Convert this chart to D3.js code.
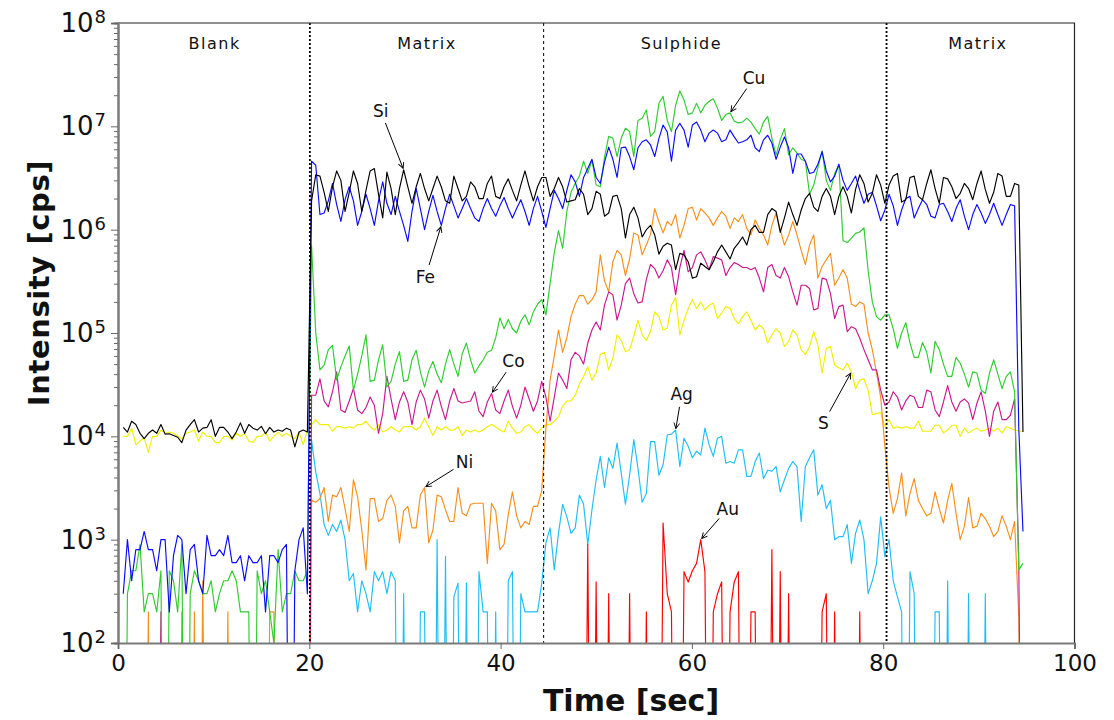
<!DOCTYPE html>
<html>
<head>
<meta charset="utf-8">
<script src="https://cdn.jsdelivr.net/npm/d3@7"></script>
<style>
  body { margin: 0; background: #fff; }
  svg text { font-family: "DejaVu Sans", "Liberation Sans", sans-serif; }
</style>
</head>
<body>
<svg id="chart" width="1114" height="720"></svg>
<script>
// Laser ablation ICP-MS time-resolved signal; one reading per sweep.
const sweepStart = 0.55;   // s, first sweep
const sweepStep = 0.4375;  // s between sweeps

// Intensities in counts per second (0 = nothing counted)
const si = [
  1.22e4,1.1e4,1.4e4,1.3e4,1.07e4,9.5e3,1.07e4,1.15e4,1.07e4,1.3e4,
  1.05e4,1.06e4,1.02e4,9.8e3,8.7e3,1.15e4,1.3e4,1.45e4,1.1e4,1.2e4,
  1.22e4,1.45e4,1.0e4,1.22e4,1.22e4,1.1e4,9.5e3,1.1e4,1.35e4,1.07e4,
  1.3e4,1.2e4,1.15e4,1.25e4,1.06e4,1.22e4,1.1e4,1.15e4,1.12e4,1.2e4,
  1.15e4,7.9e3,1.1e4,1.15e4,1.1e4,
  1.9e6,3.4e6,3.3e6,2.3e6,1.5e6,2.6e6,3.7e6,3.0e6,1.5e6,2.3e6,
  3.7e6,2.8e6,1.5e6,2.4e6,3.7e6,3.9e6,2.2e6,1.3e6,3.6e6,2.5e6,
  1.4e6,2.5e6,3.8e6,2.6e6,1.8e6,2.6e6,3.5e6,2.5e6,1.9e6,2.5e6,
  3.3e6,2.6e6,1.9e6,1.8e6,3.3e6,2.5e6,1.9e6,2.1e6,2.9e6,2.6e6,
  2.0e6,2.0e6,2.8e6,3.3e6,2.1e6,2.0e6,2.6e6,3.1e6,2.4e6,1.9e6,
  2.7e6,3.7e6,2.6e6,1.9e6,2.6e6,3.2e6,3.2e6,
  2.1e6,2.5e6,3.2e6,2.6e6,1.85e6,1.9e6,1.95e6,2.5e6,2.2e6,1.4e6,1.6e6,
  2.35e6,2.2e6,1.35e6,1.45e6,2.1e6,2.15e6,1.6e6,8.3e5,1.4e6,1.65e6,
  1.3e6,8.5e5,1.0e6,1.1e6,8.9e5,5.8e5,6.9e5,7.4e5,7.1e5,4.1e5,
  5.9e5,5.7e5,4.9e5,3.4e5,3.5e5,4.75e5,4.4e5,4.1e5,4.9e5,6.1e5,
  7.1e5,6.1e5,5.2e5,6.6e5,7.4e5,8.5e5,7.1e5,1.0e6,1.1e6,9.4e5,
  9.4e5,1.4e6,1.6e6,1.5e6,9.4e5,1.3e6,1.85e6,1.4e6,1.1e6,1.55e6,
  2.0e6,2.25e6,1.65e6,1.5e6,2.1e6,2.5e6,2.1e6,1.4e6,
  2.1e6,2.6e6,2.1e6,1.45e6,2.45e6,3.4e6,2.8e6,1.85e6,2.25e6,3.4e6,
  2.7e6,1.8e6,2.7e6,3.3e6,3.5e6,1.85e6,1.95e6,3.2e6,3.3e6,2.1e6,
  1.95e6,2.8e6,3.8e6,2.5e6,1.8e6,3.2e6,3.1e6,2.6e6,2.0e6,2.25e6,
  2.8e6,2.5e6,1.95e6,2.8e6,3.7e6,2.45e6,1.8e6,2.3e6,3.5e6,3.3e6,
  2.1e6,2.1e6,2.8e6,2.7e6,1.1e4
];

const fe = [
  300,1000,400,800,800,1200,800,800,500,1000,
  1000,200,700,1100,1000,300,800,900,400,300,
  1100,700,700,800,700,1100,600,600,700,400,
  700,600,600,700,200,700,700,600,800,900,
  0,500,1000,1300,300,
  4.6e6,4.2e6,1.4e6,1.45e6,1.9e6,2.8e6,1.75e6,1.2e6,1.95e6,2.6e6,
  1.9e6,1.1e6,1.5e6,
  2.2e6,1.6e6,1.1e6,1.9e6,2.9e6,1.8e6,1.4e6,2.1e6,1.5e6,1.1e6,
  7.7e5,1.5e6,2.5e6,1.6e6,1.0e6,1.5e6,2.15e6,1.5e6,1.1e6,1.6e6,
  2.2e6,1.7e6,1.3e6,1.6e6,2.0e6,1.6e6,1.3e6,1.2e6,1.6e6,2.0e6,
  1.6e6,1.35e6,1.7e6,2.05e6,1.6e6,1.3e6,1.6e6,1.95e6,1.5e6,1.1e6,
  1.6e6,2.1e6,1.5e6,1.05e6,
  1.6e6,2.4e6,2.0e6,1.6e6,2.4e6,3.4e6,2.9e6,2.1e6,3.2e6,3.9e6,4.8e6,
  3.2e6,2.8e6,4.5e6,6.3e6,4.8e6,3.2e6,6.2e6,6.3e6,5.1e6,3.8e6,
  6.2e6,7.1e6,7.4e6,6.6e6,5.1e6,7.6e6,1.03e7,8.8e6,4.6e6,9.2e6,
  1.07e7,9.2e6,6.3e6,1.03e7,1.1e7,9.2e6,7.1e6,8.6e6,9.2e6,8.6e6,
  7.1e6,7.4e6,9.2e6,7.9e6,6.9e6,7.1e6,7.4e6,8.2e6,6.2e6,5.7e6,
  7.4e6,8.2e6,6.9e6,4.8e6,6.3e6,7.9e6,6.2e6,3.5e6,5.4e6,5.4e6,
  4.6e6,3.5e6,3.6e6,4.3e6,5.7e6,3.7e6,2.9e6,3.3e6,
  4.3e6,3.0e6,2.4e6,2.8e6,3.3e6,2.4e6,1.8e6,2.2e6,2.3e6,1.7e6,
  1.22e6,1.55e6,2.2e6,1.7e6,1.1e6,1.55e6,2.0e6,2.1e6,1.3e6,1.6e6,
  1.95e6,1.75e6,1.35e6,1.3e6,1.75e6,1.8e6,1.5e6,1.2e6,1.6e6,1.95e6,
  1.35e6,1.0e6,1.4e6,1.75e6,1.45e6,1.15e6,1.4e6,1.8e6,1.4e6,1.1e6,
  1.4e6,1.75e6,1.7e6,1.2e4,1.2e3
];

const cu = [
  0,300,500,500,900,200,300,300,200,500,
  0,500,400,200,900,0,300,500,400,300,
  300,400,200,300,400,400,500,400,200,200,
  200,0,500,300,400,200,100,800,200,300,
  300,500,400,400,500,
  7.0e5,1.0e5,4.4e4,4.9e4,6.9e4,7.6e4,3.5e4,4.7e4,6.0e4,7.5e4,
  2.8e4,4.0e4,6.0e4,9.6e4,3.4e4,3.5e4,5.5e4,7.7e4,3.0e4,3.4e4,
  5.0e4,6.6e4,3.4e4,3.5e4,5.5e4,6.8e4,4.2e4,3.0e4,4.3e4,5.3e4,
  4.0e4,3.3e4,5.0e4,6.9e4,5.0e4,3.8e4,6.3e4,8.0e4,5.5e4,4.1e4,
  4.8e4,5.5e4,6.5e4,6.8e4,9.0e4,1.4e5,1.1e5,1.35e5,1.1e5,1.0e5,
  1.3e5,1.5e5,1.2e5,1.6e5,1.9e5,2.1e5,1.5e5,
  3.0e5,6.0e5,9.8e5,6.6e5,1.5e6,2.3e6,2.8e6,3.3e6,4.6e6,3.5e6,4.7e6,
  2.7e6,2.6e6,5.0e6,8.0e6,7.7e6,5.1e6,7.7e6,9.6e6,8.9e6,5.1e6,
  1.14e7,1.2e7,1.44e7,8.0e6,8.9e6,1.67e7,1.95e7,1.14e7,8.9e6,1.6e7,
  2.2e7,1.8e7,1.3e7,1.35e7,1.67e7,1.35e7,1.6e7,1.75e7,1.85e7,1.5e7,
  1.14e7,1.3e7,1.35e7,1.12e7,1.08e7,1.1e7,1.2e7,1.1e7,9.5e6,8.4e6,
  1.1e7,1.25e7,7.7e6,5.3e6,7.4e6,9.5e6,5.3e6,6.2e6,5.5e6,4.8e6,
  4.6e6,2.2e6,2.7e6,4.0e6,5.8e6,3.0e6,2.4e6,3.5e6,
  4.2e6,7.8e5,7.5e5,8.3e5,9.2e5,9.5e5,1.04e6,4.0e5,2.0e5,1.44e5,
  1.33e5,1.5e5,1.5e5,1.1e5,7.1e4,1.0e5,1.26e5,8.0e4,5.8e4,5.8e4,
  8.1e4,6.5e4,4.1e4,8.3e4,6.9e4,5.0e4,3.8e4,3.8e4,5.8e4,5.1e4,
  4.0e4,3.0e4,4.2e4,4.1e4,2.8e4,2.6e4,4.1e4,5.5e4,4.0e4,2.9e4,
  3.8e4,4.2e4,2.7e4,510,590
];

const ni = [
  0,0,0,0,0,0,200,0,0,0,
  0,0,0,0,200,0,0,200,0,400,
  0,0,0,0,0,200,0,0,0,0,
  0,0,0,0,0,200,200,0,0,0,
  0,0,0,0,0,
  2.4e3,2.3e3,2.5e3,3.2e3,1.5e3,2.7e3,2.6e3,3.2e3,2.0e3,1.2e3,
  3.8e3,2.6e3,1.24e3,510,2.5e3,2.5e3,1.5e3,1.6e3,2.4e3,2.7e3,
  2.1e3,930,1.9e3,2.1e3,1.3e3,1.3e3,2.7e3,3.2e3,930,1.24e3,
  2.7e3,2.6e3,1.95e3,1.5e3,1.5e3,3.2e3,1.8e3,1.7e3,2.2e3,2.25e3,
  2.25e3,2.25e3,590,2.25e3,1.9e3,800,900,1.75e3,2.9e3,1.7e3,
  1.3e3,1.5e3,1.4e3,2.1e3,2.1e3,3.0e3,
  1.2e4,3.5e4,6.0e4,1.07e5,6.5e4,9.0e4,1.44e5,1.9e5,2.3e5,2.3e5,1.9e5,2.1e5,
  2.5e5,5.7e5,3.2e5,2.5e5,4.9e5,6.3e5,5.7e5,3.6e5,5.2e5,9.3e5,
  8.9e5,5.7e5,7.1e5,9.0e5,1.6e6,1.2e6,9.3e5,1.2e6,1.1e6,1.4e6,
  8.3e5,1.1e6,1.6e6,1.65e6,1.24e6,1.6e6,1.45e6,1.3e6,1.1e6,1.3e6,
  1.5e6,1.35e6,1.03e6,1.3e6,1.2e6,1.4e6,1.03e6,8.9e5,1.24e6,1.03e6,
  8.9e5,7.1e5,1.1e6,1.45e6,1.0e6,7.1e5,8.9e5,1.2e6,8.9e5,6.3e5,
  4.6e5,7.1e5,8.9e5,3.4e5,4.4e5,5.1e5,5.9e5,2.9e5,
  3.4e5,4.1e5,3.4e5,1.9e5,1.8e5,2.0e5,1.9e5,1.0e5,6.9e4,4.1e4,
  2.4e4,8.0e3,3.2e3,1.8e3,2.5e3,4.4e3,1.7e3,2.8e3,3.9e3,2.4e3,
  2.0e3,1.7e3,1.8e3,2.9e3,2.0e3,1.45e3,2.4e3,3.5e3,1.8e3,1.0e3,
  1.35e3,2.55e3,1.3e3,1.35e3,1.8e3,1.6e3,1.35e3,1.07e3,1.2e3,1.7e3,
  1.35e3,1.0e3,1.5e3,180,0
];

const co = [
  0,0,0,0,0,0,0,0,0,200,
  0,0,0,0,0,0,0,0,0,0,
  0,0,0,0,0,0,0,0,0,0,
  0,0,0,0,0,0,0,0,0,0,
  0,0,0,0,0,
  2.5e4,2.5e4,3.6e4,2.2e4,1.93e4,2.7e4,4.2e4,1.8e4,1.7e4,2.2e4,
  2.9e4,1.8e4,
  1.66e4,1.9e4,2.4e4,2.0e4,1.07e4,1.66e4,3.8e4,2.3e4,1.45e4,2.15e4,
  2.7e4,2.15e4,1.3e4,2.15e4,2.8e4,2.3e4,1.5e4,2.2e4,2.8e4,1.95e4,
  1.45e4,2.2e4,2.9e4,2.2e4,2.1e4,2.15e4,2.2e4,2.7e4,1.75e4,1.55e4,
  2.15e4,2.6e4,1.8e4,1.66e4,2.2e4,2.8e4,1.95e4,1.5e4,2.0e4,3.0e4,
  2.3e4,1.75e4,2.2e4,3.4e4,2.4e4,
  1.4e4,2.4e4,4.1e4,3.5e4,2.9e4,5.5e4,6.5e4,6.0e4,5.0e4,8.0e4,1.07e5,
  1.28e5,1.07e5,1.86e5,2.5e5,2.35e5,1.33e5,1.86e5,3.0e5,3.4e5,2.4e5,
  1.95e5,2.0e5,3.3e5,4.6e5,4.2e5,3.4e5,4.0e5,5.1e5,4.3e5,2.35e5,
  4.3e5,6.3e5,3.9e5,4.3e5,5.7e5,6.1e5,5.1e5,4.1e5,5.5e5,5.3e5,
  5.1e5,3.6e5,4.3e5,4.8e5,4.6e5,4.3e5,4.3e5,4.1e5,4.3e5,3.4e5,
  2.5e5,4.3e5,4.6e5,3.6e5,3.4e5,4.3e5,3.5e5,2.5e5,1.86e5,2.9e5,
  2.9e5,2.7e5,1.67e5,1.73e5,3.4e5,3.3e5,2.4e5,1.38e5,
  1.8e5,1.86e5,1.03e5,1.15e5,1.1e5,8.9e4,6.9e4,5.5e4,4.4e4,4.4e4,
  2.8e4,2.0e4,2.15e4,2.7e4,2.4e4,1.8e4,2.2e4,2.5e4,2.4e4,1.9e4,
  1.9e4,2.8e4,2.7e4,1.8e4,1.55e4,2.15e4,3.1e4,2.15e4,1.75e4,2.15e4,
  2.3e4,2.1e4,1.45e4,2.1e4,2.7e4,1.75e4,1.0e4,1.75e4,2.15e4,1.45e4,
  1.45e4,1.6e4,2.3e4,590,0
];

const s = [
  1.0e4,1.0e4,1.2e4,8.3e3,9.0e3,9.7e3,7.0e3,1.0e4,1.0e4,1.15e4,
  1.07e4,1.1e4,1.07e4,1.0e4,9.5e3,1.07e4,1.1e4,1.15e4,9.0e3,1.1e4,
  1.0e4,1.0e4,8.7e3,8.7e3,1.0e4,1.0e4,9.2e3,1.07e4,1.0e4,1.07e4,
  9.0e3,8.7e3,1.0e4,1.0e4,1.1e4,9.0e3,1.0e4,1.1e4,1.0e4,1.07e4,
  1.0e4,9.5e3,1.1e4,8.3e3,1.15e4,
  1.3e4,1.45e4,1.3e4,1.3e4,1.3e4,1.12e4,1.24e4,1.24e4,1.2e4,1.24e4,
  1.2e4,1.3e4,1.3e4,1.4e4,1.24e4,1.15e4,1.3e4,1.1e4,1.15e4,1.24e4,
  1.15e4,1.1e4,1.24e4,1.24e4,1.24e4,1.15e4,1.24e4,1.5e4,1.24e4,1.02e4,
  1.24e4,1.15e4,1.24e4,1.15e4,1.15e4,1.24e4,1.02e4,1.15e4,1.1e4,1.15e4,
  1.1e4,1.15e4,1.24e4,1.3e4,1.24e4,1.15e4,1.1e4,1.4e4,1.2e4,1.07e4,
  1.1e4,1.24e4,1.3e4,1.15e4,1.07e4,1.2e4,1.3e4,1.3e4,
  1.4e4,1.55e4,1.95e4,2.2e4,2.2e4,2.5e4,3.2e4,3.8e4,4.7e4,3.5e4,
  4.1e4,6.2e4,6.5e4,4.4e4,5.7e4,9.6e4,8.5e4,6.6e4,6.9e4,9.3e4,
  1.33e5,9.6e4,8.5e4,1.03e5,1.6e5,1.44e5,1.07e5,1.12e5,1.86e5,2.2e5,
  9.6e4,1.33e5,1.73e5,2.1e5,1.73e5,2.0e5,1.67e5,1.86e5,1.95e5,1.38e5,
  1.56e5,1.8e5,1.73e5,1.38e5,1.23e5,1.44e5,1.6e5,1.33e5,1.07e5,1.2e5,
  1.1e5,8.0e4,9.6e4,1.1e5,1.0e5,7.4e4,8.3e4,1.07e5,9.6e4,6.9e4,
  6.2e4,7.4e4,1.03e5,7.6e4,4.1e4,7.1e4,7.4e4,4.9e4,
  4.6e4,4.4e4,5.1e4,4.2e4,2.9e4,3.5e4,3.6e4,2.8e4,1.62e4,1.66e4,
  1.7e4,1.24e4,1.45e4,1.2e4,1.24e4,1.2e4,1.24e4,1.2e4,1.2e4,1.4e4,
  1.12e4,1.12e4,1.12e4,1.28e4,1.28e4,1.08e4,1.15e4,1.28e4,1.28e4,1.0e4,
  1.2e4,1.08e4,1.15e4,1.2e4,1.12e4,1.15e4,1.2e4,1.12e4,1.2e4,1.08e4,
  1.24e4,1.2e4,1.15e4,1.12e4,1.12e4
];

const ag = [
  0,0,0,0,0,0,0,0,0,0,
  0,0,0,0,0,0,0,0,0,0,
  0,0,0,0,0,0,0,0,0,0,
  0,0,0,0,0,0,0,0,0,0,
  0,0,0,0,0,
  9.2e3,4.5e3,2.8e3,1.4e3,1.1e3,1.4e3,1.2e3,1.55e3,1.0e3,400,
  470,200,400,300,200,490,400,490,300,490,
  400,0,300,0,0,0,200,200,0,0,
  1.0e3,0,690,0,280,380,0,380,0,0,
  490,200,200,0,200,0,0,400,490,0,
  300,200,200,200,200,380,930,1.3e3,510,1.15e3,
  2.2e3,1.66e3,1.15e3,1.3e3,2.7e3,2.2e3,900,1.95e3,3.8e3,
  6.4e3,3.2e3,6.2e3,4.9e3,8.6e3,4.4e3,2.2e3,4.2e3,9.3e3,4.9e3,
  2.3e3,2.8e3,8.9e3,8.9e3,4.2e3,5.3e3,1.03e4,1.05e4,1.15e4,5.1e3,
  9.6e3,8.0e3,6.2e3,7.2e3,6.6e3,1.2e4,8.3e3,6.4e3,9.6e3,1.0e4,
  5.5e3,5.7e3,5.5e3,7.4e3,7.4e3,4.1e3,4.1e3,5.7e3,6.9e3,3.9e3,
  4.7e3,4.6e3,5.1e3,2.9e3,3.8e3,4.9e3,5.7e3,5.1e3,1.5e3,5.1e3,
  6.2e3,7.4e3,2.7e3,3.4e3,2.0e3,2.4e3,1.0e3,
  1.07e3,1.07e3,1.4e3,590,1.15e3,1.55e3,1.0e3,300,400,590,
  1.66e3,690,1.0e3,400,280,200,0,490,300,0,
  0,0,0,200,200,0,400,0,0,0,
  0,300,0,0,0,300,0,0,0,0,
  0,0,0,0,0
];

const au = [
  0,0,0,0,0,0,0,0,0,0,
  0,0,0,0,0,0,0,0,0,0,
  0,0,0,0,0,0,0,0,0,0,
  0,0,0,0,0,0,0,0,0,0,
  0,0,0,0,0,0,0,0,0,0,
  0,0,0,0,0,0,0,0,0,0,
  0,0,0,0,0,0,0,0,0,0,
  0,0,0,0,0,0,0,0,0,0,
  0,0,0,0,0,0,0,0,0,0,
  0,0,0,0,0,0,0,0,0,0,
  0,0,0,0,0,0,0,0,0,0,
  0,900,0,390,0,0,300,0,0,0,
  0,300,0,0,0,200,0,0,0,1450,
  300,200,0,0,490,390,500,590,1000,490,
  0,200,300,390,0,200,390,490,0,0,
  200,200,0,0,0,800,0,490,0,300,
  0,0,0,0,0,0,0,200,300,0,
  200,0,0,0,0,0,200,0,0,0,
  0,0,0,0,0,0,0,0,0,0,
  0,0,0,0,0,0,0,0,0,0,
  0,0,0,0,0,0,0,0,0,0,
  0,0,0,0,0,0
];

// Sample phases along the ablation
const phaseBounds = [20.06, 44.5, 80.35];
const phaseNames = ["Blank", "Matrix", "Sulphide", "Matrix"];
const phaseLabelTimes = [10.1, 32.3, 58.9, 89.9];

const xTicks = [0, 20, 40, 60, 80, 100];
const yExponents = [2, 3, 4, 5, 6, 7, 8];

// ---------------------------------------------------------------------
const svg = d3.select("#chart");
const M = { left: 118, right: 1074.5, top: 23, bottom: 643 };

const x = d3.scaleLinear().domain([0, 100]).range([M.left, M.right]);
const y = d3.scaleLog().domain([1e2, 1e8]).range([M.bottom, M.top]);

// zero counts are sent far below the axis so the trace drops straight out
const ZERO_FLOOR = 1e-2;
const time = d3.range(si.length).map(i => sweepStart + i * sweepStep);

const series = [
  { name: "S",  values: s,  color: "#f2f000" },
  { name: "Ag", values: ag, color: "#1fbff5" },
  { name: "Au", values: au, color: "#ff0000" },
  { name: "Ni", values: ni, color: "#f5901c" },
  { name: "Co", values: co, color: "#c9198e" },
  { name: "Cu", values: cu, color: "#2fcc2f" },
  { name: "Fe", values: fe, color: "#0a0aff" },
  { name: "Si", values: si, color: "#000000" }
];
const byName = Object.fromEntries(series.map(d => [d.name, d]));

svg.append("defs").append("clipPath").attr("id", "plotClip")
  .append("rect")
  .attr("x", M.left).attr("y", M.top)
  .attr("width", M.right - M.left).attr("height", M.bottom - M.top);

svg.select("defs").append("marker")
  .attr("id", "arrowHead")
  .attr("viewBox", "0 0 10 10")
  .attr("refX", 9).attr("refY", 5)
  .attr("markerWidth", 7).attr("markerHeight", 7)
  .attr("markerUnits", "userSpaceOnUse")
  .attr("orient", "auto")
  .append("path")
  .attr("d", "M1,1 L9,5 L1,9")
  .attr("fill", "none").attr("stroke", "#000").attr("stroke-width", 1.3);

// traces
const line = d3.line()
  .x((d, i) => x(time[i]))
  .y(d => y(Math.max(d, ZERO_FLOOR)));

const traces = svg.append("g").attr("clip-path", "url(#plotClip)");
traces.selectAll("path.trace")
  .data(series)
  .join("path")
  .attr("class", "trace")
  .attr("d", d => line(d.values))
  .attr("fill", "none")
  .attr("stroke", d => d.color)
  .attr("stroke-width", 1.15)
  .attr("stroke-linejoin", "round");

// phase boundaries
svg.append("g").selectAll("line")
  .data(phaseBounds)
  .join("line")
  .attr("x1", d => x(d)).attr("x2", d => x(d))
  .attr("y1", M.top).attr("y2", M.bottom)
  .attr("stroke", "#000")
  .attr("stroke-width", (d, i) => i === 1 ? 1 : 1.8)
  .attr("stroke-dasharray", (d, i) => i === 1 ? "3,3" : "2,2");

// phase names
svg.append("g").selectAll("text")
  .data(phaseNames)
  .join("text")
  .attr("x", (d, i) => x(phaseLabelTimes[i]))
  .attr("y", 49)
  .attr("text-anchor", "middle")
  .attr("font-size", 16)
  .attr("letter-spacing", 1.5)
  .attr("fill", "#111")
  .text(d => d);

// frame (top and right)
svg.append("path")
  .attr("d", `M${M.left},${M.top}H${M.right}V${M.bottom}`)
  .attr("fill", "none").attr("stroke", "#222").attr("stroke-width", 1.2);

// y axis: decades with minor ticks
const minorTicks = [];
yExponents.slice(0, -1).forEach(e => {
  for (let k = 2; k <= 9; k++) minorTicks.push(k * Math.pow(10, e));
});
const majorTicks = yExponents.map(e => Math.pow(10, e));

const yAxisMinor = svg.append("g")
  .attr("transform", `translate(${M.left},0)`)
  .call(d3.axisLeft(y).tickValues(minorTicks).tickSize(4).tickFormat(""));
const yAxisMajor = svg.append("g")
  .attr("transform", `translate(${M.left},0)`)
  .call(d3.axisLeft(y).tickValues(majorTicks).tickSize(7).tickFormat(""));
[yAxisMinor, yAxisMajor].forEach(g => {
  g.select(".domain").attr("stroke", "#7a7a7a").attr("stroke-width", 2);
  g.selectAll(".tick line").attr("stroke", "#666").attr("stroke-width", 1);
});

const yLabels = svg.append("g").selectAll("text")
  .data(yExponents)
  .join("text")
  .attr("x", 106)
  .attr("y", e => y(Math.pow(10, e)) + 9)
  .attr("text-anchor", "end")
  .attr("font-size", 26)
  .attr("fill", "#111");
yLabels.append("tspan").text("10");
yLabels.append("tspan").attr("dy", -9).attr("dx", 1).attr("font-size", 18).text(e => e);

// x axis
const xAxis = svg.append("g")
  .attr("transform", `translate(0,${M.bottom})`)
  .call(d3.axisBottom(x).tickValues(xTicks).tickSize(6).tickPadding(6).tickFormat(d3.format("d")));
xAxis.select(".domain").attr("stroke", "#7a7a7a").attr("stroke-width", 2);
xAxis.selectAll(".tick line").attr("stroke", "#666");
xAxis.selectAll(".tick text")
  .attr("font-size", 23)
  .attr("font-family", "'DejaVu Sans', sans-serif")
  .attr("fill", "#111");

// axis titles
svg.append("text")
  .attr("x", 631)
  .attr("y", 711)
  .attr("text-anchor", "middle")
  .attr("font-size", 30)
  .attr("font-weight", "bold")
  .attr("fill", "#111")
  .text("Time [sec]");

svg.append("text")
  .attr("transform", "translate(49,283) rotate(-90)")
  .attr("text-anchor", "middle")
  .attr("font-size", 29)
  .attr("font-weight", "bold")
  .attr("letter-spacing", 0.6)
  .attr("fill", "#111")
  .text("Intensity [cps]");

// element call-outs: arrow tip sits on a sample of the named trace,
// label placed at a pixel offset from it
const notes = [
  { name: "Si", index: 67,  dx: -23, dy: -59 },
  { name: "Fe", index: 76,  dx: -16, dy: 52 },
  { name: "Cu", index: 145, dx: 24,  dy: -35 },
  { name: "Co", index: 88,  dx: 22,  dy: -32 },
  { name: "Ni", index: 72,  dx: 40,  dy: -25 },
  { name: "Ag", index: 132, dx: 6,   dy: -36 },
  { name: "Au", index: 138, dx: 27,  dy: -31 },
  { name: "S",  index: 174, dx: -28, dy: 51 }
];

const noteG = svg.append("g");
notes.forEach(n => {
  const tx = x(time[n.index]);
  const ty = y(byName[n.name].values[n.index]);
  const lx = tx + n.dx, ly = ty + n.dy;
  const len = Math.hypot(n.dx, n.dy);
  const ux = -n.dx / len, uy = -n.dy / len;
  noteG.append("line")
    .attr("x1", lx + ux * 13).attr("y1", ly + uy * 13)
    .attr("x2", tx - ux * 1.5).attr("y2", ty - uy * 1.5)
    .attr("stroke", "#000").attr("stroke-width", 1)
    .attr("marker-end", "url(#arrowHead)");
  noteG.append("text")
    .attr("x", lx).attr("y", ly)
    .attr("text-anchor", "middle")
    .attr("dominant-baseline", "central")
    .attr("font-size", 17)
    .attr("fill", "#111")
    .text(n.name);
});
</script>
</body>
</html>
